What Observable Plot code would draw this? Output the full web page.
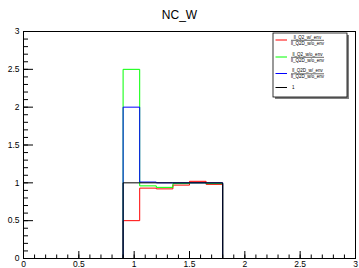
<!DOCTYPE html>
<html>
<head>
<meta charset="utf-8">
<script src="https://cdn.jsdelivr.net/npm/d3@7"></script>
<script src="https://cdn.jsdelivr.net/npm/@observablehq/plot@0.6"></script>
<style>
  html, body { margin: 0; padding: 0; background: white; }
  svg { display: block; }
</style>
</head>
<body>
<div id="chart"></div>
<script>
// ---- data ----
const title = "NC_W";
const binEdges = [0.9, 1.05, 1.2, 1.35, 1.5, 1.65, 1.8];
const redValues   = [0.5, 0.93, 0.92, 0.97, 1.02, 0.98];
const greenValues = [2.5, 0.96, 0.94, 0.99, 1.0, 0.99];
const blueValues  = [2.0, 1.01, 1.0, 1.0, 1.0, 1.0];
const blackValues = [1, 1, 1, 1, 1, 1];
const seriesNames = ["red", "green", "blue", "black"];
const seriesColors = ["#ff0000", "#00ff00", "#0000ff", "#000000"];
const legendNum = ["ll_Q2_w/_env", "ll_Q2_w/o_env", "ll_Q2D_w/_env", "1"];
const legendDen = ["ll_Q2D_w/o_env", "ll_Q2D_w/o_env", "ll_Q2D_w/o_env", null];
const xTickLabels = [0, 0.5, 1, 1.5, 2, 2.5, 3];
const yTickLabels = [0, 0.5, 1, 1.5, 2, 2.5, 3];
const xMinorTicks = d3.range(0, 31).map(i => i / 10);
const yMinorTicks = d3.range(0, 31).map(i => i / 10);

// build step outlines from bin edges and contents
function steps(values) {
  const pts = [[binEdges[0], 0]];
  values.forEach((v, i) => { pts.push([binEdges[i], v]); pts.push([binEdges[i + 1], v]); });
  pts.push([binEdges[binEdges.length - 1], 0]);
  return pts;
}
const allValues = [redValues, greenValues, blueValues, blackValues];

const W = 359, H = 268;
const mL = 23, mR = 4, mT = 31, mB = 10;
const pw = W - mL - mR, ph = H - mT - mB;

const histMarks = allValues.map((vals, k) =>
  Plot.line(steps(vals), {x: d => d[0], y: d => d[1], stroke: seriesColors[k], strokeWidth: 1})
);

const chart = Plot.plot({
  width: W, height: H,
  marginLeft: mL, marginRight: mR, marginTop: mT, marginBottom: mB,
  x: {domain: [0, 3]},
  y: {domain: [0, 3]},
  style: {background: "white", fontFamily: "'Liberation Sans', Arial, sans-serif", fontSize: "8.5px", color: "black"},
  marks: [
    ...histMarks,
    Plot.tickX(xMinorTicks, {x: d => d, insetTop: ph - 3.5, stroke: "black", strokeWidth: 1}),
    Plot.tickX(xTickLabels, {x: d => d, insetTop: ph - 7, stroke: "black", strokeWidth: 1}),
    Plot.tickY(yMinorTicks, {y: d => d, insetRight: pw - 5, stroke: "black", strokeWidth: 1}),
    Plot.tickY(yTickLabels, {y: d => d, insetRight: pw - 10, stroke: "black", strokeWidth: 1}),
    Plot.axisX({ticks: xTickLabels, tickSize: 0, tickPadding: 2, tickFormat: d => String(d), label: null}),
    Plot.axisY({ticks: yTickLabels, tickSize: 0, tickPadding: 4, tickFormat: d => String(d), label: null}),
    Plot.frame({stroke: "black", strokeWidth: 1})
  ]
});
document.getElementById("chart").appendChild(chart);

// title and legend overlay
const svg = d3.select(chart);
svg.append("text").attr("x", 179.5).attr("y", 18.5).attr("text-anchor", "middle")
  .attr("font-size", "12px").attr("fill", "black").text(title);

const lg = svg.append("g");
const lx = 273, ly = 33, lw = 74, lh = 64;
lg.append("rect").attr("x", lx + 2).attr("y", ly + 2).attr("width", lw).attr("height", lh).attr("fill", "#808080");
lg.append("rect").attr("x", lx).attr("y", ly).attr("width", lw).attr("height", lh).attr("fill", "white").attr("stroke", "black").attr("stroke-width", 0.8);
const rowY = [40, 57, 73.5, 87.5];
seriesNames.forEach((n, i) => {
  lg.append("line").attr("x1", 275.5).attr("x2", 287).attr("y1", rowY[i]).attr("y2", rowY[i])
    .attr("stroke", seriesColors[i]).attr("stroke-width", 1);
  if (legendDen[i]) {
    lg.append("text").attr("x", 307.5).attr("y", rowY[i] - 1.3).attr("text-anchor", "middle")
      .attr("font-size", "4.5px").text(legendNum[i]);
    lg.append("line").attr("x1", 291).attr("x2", 324).attr("y1", rowY[i] + 0.3).attr("y2", rowY[i] + 0.3)
      .attr("stroke", "black").attr("stroke-width", 0.6);
    lg.append("text").attr("x", 307.5).attr("y", rowY[i] + 4.6).attr("text-anchor", "middle")
      .attr("font-size", "4.5px").text(legendDen[i]);
  } else {
    lg.append("text").attr("x", 292).attr("y", rowY[i] + 1.5).attr("text-anchor", "start")
      .attr("font-size", "4.5px").text(legendNum[i]);
  }
});
</script>
</body>
</html>
